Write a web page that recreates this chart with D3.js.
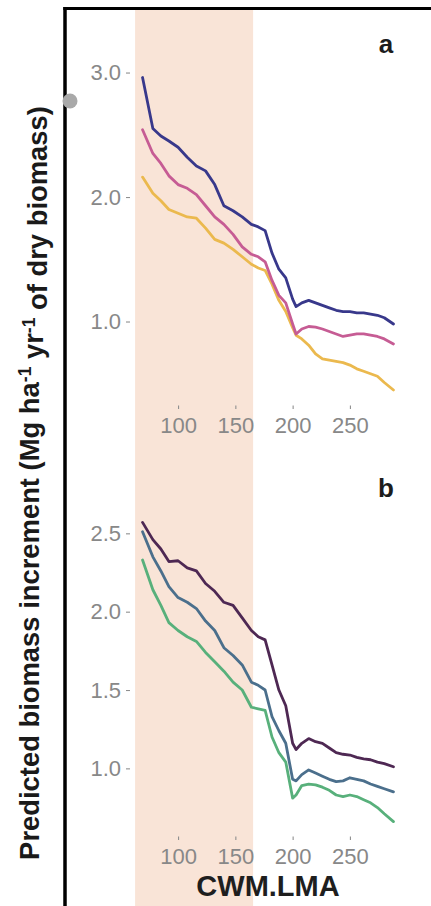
<!DOCTYPE html>
<html>
<head>
<meta charset="utf-8">
<script src="https://cdn.jsdelivr.net/npm/d3@7"></script>
<style>
  html, body { margin: 0; padding: 0; background: #fff; }
  svg { display: block; }
  text { font-family: "Liberation Sans", Arial, Helvetica, sans-serif; }
</style>
</head>
<body>
<svg id="chart" width="431" height="906"></svg>
<script>
// Community-weighted mean leaf mass per area (x values shared by all curves)
const lma = [69, 78, 85, 92, 100, 108, 116, 124, 132, 140, 148, 156, 164, 170, 176, 182, 188,
             194, 200, 203, 208, 214, 220, 226, 232, 238, 244, 250, 256, 262, 268, 274, 280, 288];

// Panel a predictions
const seriesA1 = [2.96, 2.55, 2.49, 2.45, 2.40, 2.32, 2.25, 2.21, 2.10, 1.93, 1.89, 1.84, 1.78, 1.76, 1.73, 1.55, 1.42,
                  1.35, 1.18, 1.12, 1.15, 1.17, 1.15, 1.13, 1.11, 1.09, 1.08, 1.08, 1.07, 1.07, 1.06, 1.05, 1.03, 0.98];
const seriesA2 = [2.54, 2.35, 2.27, 2.17, 2.10, 2.07, 2.02, 1.93, 1.84, 1.78, 1.70, 1.60, 1.54, 1.52, 1.48, 1.33, 1.21,
                  1.15, 0.98, 0.90, 0.94, 0.96, 0.955, 0.94, 0.92, 0.90, 0.88, 0.89, 0.90, 0.90, 0.89, 0.88, 0.86, 0.82];
const seriesA3 = [2.16, 2.03, 1.97, 1.90, 1.87, 1.84, 1.83, 1.75, 1.66, 1.63, 1.58, 1.52, 1.46, 1.43, 1.41, 1.30, 1.17,
                  1.08, 0.95, 0.89, 0.86, 0.81, 0.74, 0.70, 0.69, 0.68, 0.67, 0.65, 0.62, 0.60, 0.58, 0.56, 0.51, 0.45];

// Panel b predictions
const seriesB1 = [2.57, 2.46, 2.40, 2.32, 2.325, 2.28, 2.26, 2.18, 2.13, 2.06, 2.04, 1.96, 1.88, 1.84, 1.82, 1.66, 1.50,
                  1.40, 1.16, 1.12, 1.16, 1.19, 1.17, 1.16, 1.13, 1.10, 1.09, 1.085, 1.07, 1.06, 1.055, 1.04, 1.03, 1.01];
const seriesB2 = [2.51, 2.35, 2.26, 2.16, 2.09, 2.06, 2.02, 1.94, 1.88, 1.77, 1.72, 1.66, 1.55, 1.53, 1.50, 1.33, 1.24,
                  1.16, 0.93, 0.92, 0.96, 0.99, 0.97, 0.95, 0.93, 0.915, 0.92, 0.94, 0.93, 0.92, 0.90, 0.885, 0.87, 0.85];
const seriesB3 = [2.33, 2.14, 2.04, 1.93, 1.88, 1.84, 1.81, 1.74, 1.68, 1.62, 1.55, 1.50, 1.39, 1.38, 1.37, 1.20, 1.10,
                  1.04, 0.81, 0.83, 0.89, 0.90, 0.895, 0.88, 0.86, 0.83, 0.82, 0.83, 0.82, 0.80, 0.78, 0.75, 0.71, 0.66];

// Highlighted LMA interval
const bandLMA = [62.5, 165.5];

// Tick labels
const xTicks = [100, 150, 200, 250];
const yTicksA = [1.0, 2.0, 3.0];
const yTicksB = [1.0, 1.5, 2.0, 2.5];

const colorsA = ["#ebb94e", "#c65c94", "#38388b"];
const colorsB = ["#58b07b", "#4b6f8c", "#4e2853"];

const svg = d3.select("#chart");

// ggplot-like 5% expansion of a data range
function expand(ext, f = 0.05) {
  const d = (ext[1] - ext[0]) * f;
  return [ext[0] - d, ext[1] + d];
}

const x = d3.scaleLinear().domain(expand(d3.extent(lma))).range([130, 406]);

// Shaded interval spanning the full figure height
svg.append("rect")
  .attr("x", x(bandLMA[0]))
  .attr("y", 8)
  .attr("width", x(bandLMA[1]) - x(bandLMA[0]))
  .attr("height", 906 - 8)
  .attr("fill", "#f9e4d7");

function panel(series, colors, yTicks, top, bottom, tag, tagY) {
  const all = series.flat();
  const y = d3.scaleLinear().domain(expand(d3.extent(all))).range([bottom, top]);
  const g = svg.append("g");

  const line = d3.line().x((d, i) => x(lma[i])).y(d => y(d));
  series.forEach((s, k) => {
    g.append("path")
      .datum(s)
      .attr("d", line)
      .attr("fill", "none")
      .attr("stroke", colors[k])
      .attr("stroke-width", 2.8)
      .attr("stroke-linejoin", "round")
      .attr("stroke-linecap", "round");
  });

  const ya = g.append("g")
    .attr("transform", `translate(130,0)`)
    .call(d3.axisLeft(y).tickValues(yTicks).tickFormat(d3.format(".1f")).tickSize(4).tickPadding(5));
  const xa = g.append("g")
    .attr("transform", `translate(0,${bottom})`)
    .call(d3.axisBottom(x).tickValues(xTicks).tickSize(3.5).tickPadding(8));

  [ya, xa].forEach(a => {
    a.select(".domain").remove();
    a.selectAll(".tick line").attr("stroke", "#8f8f8f").attr("stroke-width", 1.1);
    a.selectAll(".tick text")
      .attr("fill", "#888888")
      .style("font-size", "22px")
      .style("font-family", "'Liberation Sans', Arial, sans-serif");
  });

  g.append("text")
    .attr("x", 386)
    .attr("y", tagY)
    .attr("text-anchor", "middle")
    .style("font-size", "26px")
    .style("font-weight", "bold")
    .attr("fill", "#1c1c1c")
    .text(tag);
}

panel([seriesA3, seriesA2, seriesA1], colorsA, yTicksA, 61.9, 405.6, "a", 53);
panel([seriesB3, seriesB2, seriesB1], colorsB, yTicksB, 507.4, 836.6, "b", 497);

// X-axis title
svg.append("text")
  .attr("x", 268)
  .attr("y", 896)
  .attr("text-anchor", "middle")
  .style("font-size", "29px")
  .style("font-weight", "bold")
  .attr("fill", "#1e1e1e")
  .text("CWM.LMA");

// Y-axis title with superscripts, sized to span the figure
const yTitle = svg.append("text")
  .attr("transform", "translate(38.5,483) rotate(-90)")
  .attr("text-anchor", "middle")
  .style("font-size", "22px")
  .style("font-weight", "bold")
  .attr("fill", "#1a1a1a");
yTitle.append("tspan").text("Predicted biomass increment (Mg ha");
yTitle.append("tspan").attr("dy", "-0.45em").style("font-size", "14px").text("-1");
yTitle.append("tspan").attr("dy", "0.45em").text(" yr");
yTitle.append("tspan").attr("dy", "-0.45em").style("font-size", "14px").text("-1");
yTitle.append("tspan").attr("dy", "0.45em").text(" of dry biomass)");
const len = yTitle.node().getComputedTextLength();
const fs = 22 * 754 / len;
yTitle.style("font-size", fs + "px");
yTitle.selectAll("tspan").filter((d, i) => i === 1 || i === 3).style("font-size", (fs * 0.64) + "px");

// Figure frame (left and top edges)
svg.append("line").attr("x1", 65).attr("x2", 65).attr("y1", 7).attr("y2", 906)
  .attr("stroke", "#000").attr("stroke-width", 3.5);
svg.append("line").attr("x1", 63.3).attr("x2", 431).attr("y1", 8.5).attr("y2", 8.5)
  .attr("stroke", "#000").attr("stroke-width", 3);

// Grey marker on the frame edge
svg.append("circle").attr("cx", 70).attr("cy", 101).attr("r", 7.5).attr("fill", "#a9a9a9");
</script>
</body>
</html>
